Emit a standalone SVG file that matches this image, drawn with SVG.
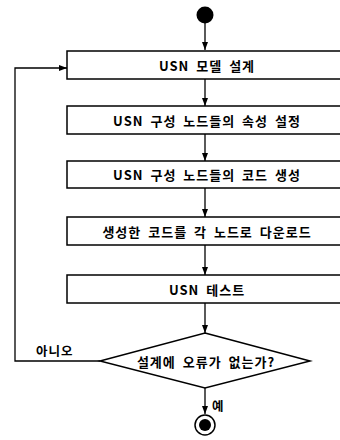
<svg xmlns="http://www.w3.org/2000/svg" width="340" height="440" viewBox="0 0 340 440">
<style>
.box{fill:#fff;stroke:#000;stroke-width:1.5}
.t{font-family:"Noto Sans CJK KR","Noto Sans",sans-serif;font-size:13px;font-weight:bold;letter-spacing:1px;word-spacing:3px;text-anchor:middle;dominant-baseline:central;fill:#000}
.l{font-family:"Noto Sans CJK KR","Noto Sans",sans-serif;font-size:12.5px;font-weight:bold;letter-spacing:1px;fill:#000}
.c{fill:none;stroke:#000;stroke-width:1.3}
</style>
<defs>
<marker id="ah" viewBox="0 0 8 8" refX="8" refY="4" markerWidth="8" markerHeight="8" markerUnits="userSpaceOnUse" orient="auto">
<path d="M0,1 L8,4 L0,7 Z" fill="#000"/>
</marker>
</defs>
<rect width="340" height="440" fill="#fff"/>
<g id="connectors">
<line class="c" x1="205" y1="23" x2="205" y2="50" marker-end="url(#ah)"/>
<line class="c" x1="205" y1="79" x2="205" y2="106" marker-end="url(#ah)"/>
<line class="c" x1="205" y1="134" x2="205" y2="161" marker-end="url(#ah)"/>
<line class="c" x1="205" y1="188" x2="205" y2="217" marker-end="url(#ah)"/>
<line class="c" x1="205" y1="245" x2="205" y2="275" marker-end="url(#ah)"/>
<line class="c" x1="205" y1="303" x2="205" y2="333" marker-end="url(#ah)"/>
<polyline class="c" points="100,361 15,361 15,68 67,68" marker-end="url(#ah)"/>
<line class="c" x1="205" y1="388" x2="205" y2="414" marker-end="url(#ah)"/>
<text class="l" x="36" y="356">아니오</text>
<text class="l" x="212" y="411">예</text>
</g>
<g id="start"><circle cx="205" cy="15" r="8.5" fill="#000"/></g>
<g id="n1"><rect class="box" x="67" y="51" width="290" height="28"/><text class="t" x="207" y="65">USN 모델 설계</text></g>
<g id="n2"><rect class="box" x="67" y="106" width="290" height="28"/><text class="t" x="207" y="120">USN 구성 노드들의 속성 설정</text></g>
<g id="n3"><rect class="box" x="67" y="161" width="290" height="27"/><text class="t" x="207" y="174">USN 구성 노드들의 코드 생성</text></g>
<g id="n4"><rect class="box" x="67" y="217" width="290" height="28"/><text class="t" x="207" y="231">생성한 코드를 각 노드로 다운로드</text></g>
<g id="n5"><rect class="box" x="67" y="275" width="290" height="28"/><text class="t" x="207" y="289">USN 테스트</text></g>
<g id="decision"><polygon class="box" points="205,333 310,361 205,388 100,361"/><text class="t" x="206" y="361">설계에 오류가 없는가?</text></g>
<g id="end"><circle cx="205" cy="425" r="10" fill="#fff" stroke="#000" stroke-width="1.5"/><circle cx="205" cy="425" r="6" fill="#000"/></g>
</svg>
